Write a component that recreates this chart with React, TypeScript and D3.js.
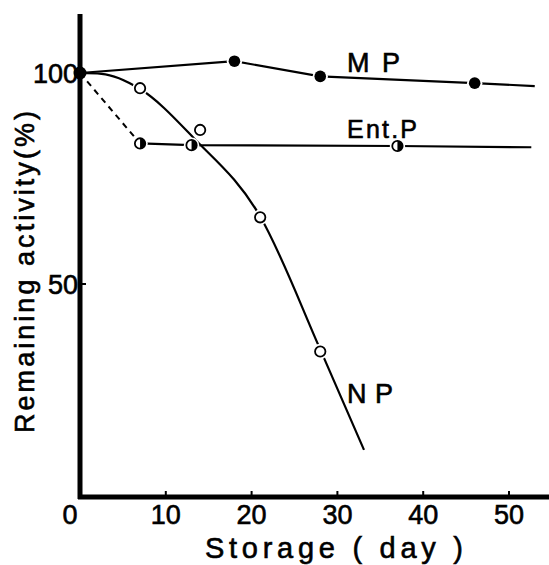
import React from 'react';
import * as d3 from 'd3';

// days of storage and remaining activity (%)
const mpDays = [0, 18, 28, 46];
const mpValues = [100, 102.8, 99.2, 97.6];
const mpLineEnd = [53, 96.9];

const entDays = [7, 13, 37];
const entValues = [83.3, 82.9, 82.7];
const entLineEnd = [52.6, 82.4];

const npDays = [7, 14, 21, 28];
const npValues = [96.4, 86.5, 65.8, 34];
// hand drawn fit curve for NP
const npCurve: [number, number][] = [
  [0, 100], [2.5, 99.8], [7, 96.2], [13.3, 84.5], [21, 66], [28, 34.5], [33.1, 10.7],
];

const xTicks = [0, 10, 20, 30, 40, 50];
const yTicks = [50, 100];

export default function App() {
  const width = 549;
  const height = 565;

  const x = d3.scaleLinear().domain([0, 50]).range([80, 509]);
  const y = d3.scaleLinear().domain([0, 100]).range([495, 73]);

  const line = d3.line<[number, number]>().x((d) => x(d[0])).y((d) => y(d[1]));
  const curve = d3.line<[number, number]>()
    .x((d) => x(d[0])).y((d) => y(d[1]))
    .curve(d3.curveMonotoneX);

  const mpPts: [number, number][] = mpDays.map((d, i) => [d, mpValues[i]]);
  const entPts: [number, number][] = entDays.map((d, i) => [d, entValues[i]]);
  const npPts: [number, number][] = npDays.map((d, i) => [d, npValues[i]]);

  const font = 'Liberation Sans, Arial, sans-serif';
  const txt = { fontFamily: font, fill: '#000', stroke: '#000', strokeWidth: 0.6 };
  const r = 5.2;
  const all = [...mpPts, ...entPts, ...npPts];

  return (
    <svg width={width} height={height} style={{ position: 'absolute', left: 0, top: 0, background: '#fff' }}>
      {/* axes */}
      <line x1={x(0)} x2={x(0)} y1={14} y2={499} stroke="#000" strokeWidth={5} />
      <line x1={x(0) - 2} x2={width} y1={497} y2={497} stroke="#000" strokeWidth={5} />
      {xTicks.filter((t) => t > 0).map((t) => (
        <line key={t} x1={x(t)} x2={x(t)} y1={497} y2={491} stroke="#000" strokeWidth={2} />
      ))}
      <line x1={x(0)} x2={x(0) + 6} y1={y(50)} y2={y(50)} stroke="#000" strokeWidth={2} />

      {/* tick labels */}
      {xTicks.map((t) => (
        <text key={t} x={t === 0 ? 70 : x(t)} y={524} textAnchor="middle" fontSize={27} {...txt}>{t}</text>
      ))}
      {yTicks.map((t) => (
        <text key={t} x={78} y={y(t) + 10} textAnchor="end" fontSize={27} {...txt}>{t}</text>
      ))}

      {/* axis titles */}
      <text transform="translate(34,272) rotate(-90)" textAnchor="middle" fontSize={27}
        textLength={322} lengthAdjust="spacing" {...txt}>Remaining activity(%)</text>
      <text x={205} y={558} fontSize={29} textLength={258} lengthAdjust="spacing" {...txt}>Storage ( day )</text>

      {/* lines */}
      <path d={line([...mpPts, mpLineEnd as [number, number]]) || ''} fill="none" stroke="#000" strokeWidth={2.2} />
      <path d={line([[0, 100], entPts[0]]) || ''} fill="none" stroke="#000" strokeWidth={2} strokeDasharray="6,5" />
      <path d={line([...entPts, entLineEnd as [number, number]]) || ''} fill="none" stroke="#000" strokeWidth={2.2} />
      <path d={curve(npCurve) || ''} fill="none" stroke="#000" strokeWidth={2.2} />

      {/* white gaps round the markers */}
      {all.filter((p) => p[0] > 0).map((p, i) => (
        <circle key={i} cx={x(p[0])} cy={y(p[1])} r={r + 2.5} fill="#fff" />
      ))}

      {/* markers */}
      {mpPts.map((p, i) => (
        <circle key={'m' + i} cx={x(p[0])} cy={y(p[1])} r={i === 0 ? 6.5 : r + 0.6} fill="#000" />
      ))}
      {entPts.map((p, i) => {
        const cx = x(p[0]);
        const cy = y(p[1]);
        return (
          <g key={'e' + i}>
            <circle cx={cx} cy={cy} r={r} fill="#fff" stroke="#000" strokeWidth={1.8} />
            <path d={`M${cx},${cy - r} A${r},${r} 0 0 1 ${cx},${cy + r} Z`} fill="#000" />
          </g>
        );
      })}
      {npPts.map((p, i) => (
        <circle key={'n' + i} cx={x(p[0])} cy={y(p[1])} r={r} fill="#fff" stroke="#000" strokeWidth={1.8} />
      ))}

      {/* series labels */}
      <text x={347} y={72} fontSize={27} textLength={53} lengthAdjust="spacing" {...txt}>M P</text>
      <text x={347} y={138} fontSize={25} textLength={70} lengthAdjust="spacing" {...txt}>Ent.P</text>
      <text x={347} y={403} fontSize={27} textLength={46} lengthAdjust="spacing" {...txt}>N P</text>
    </svg>
  );
}
